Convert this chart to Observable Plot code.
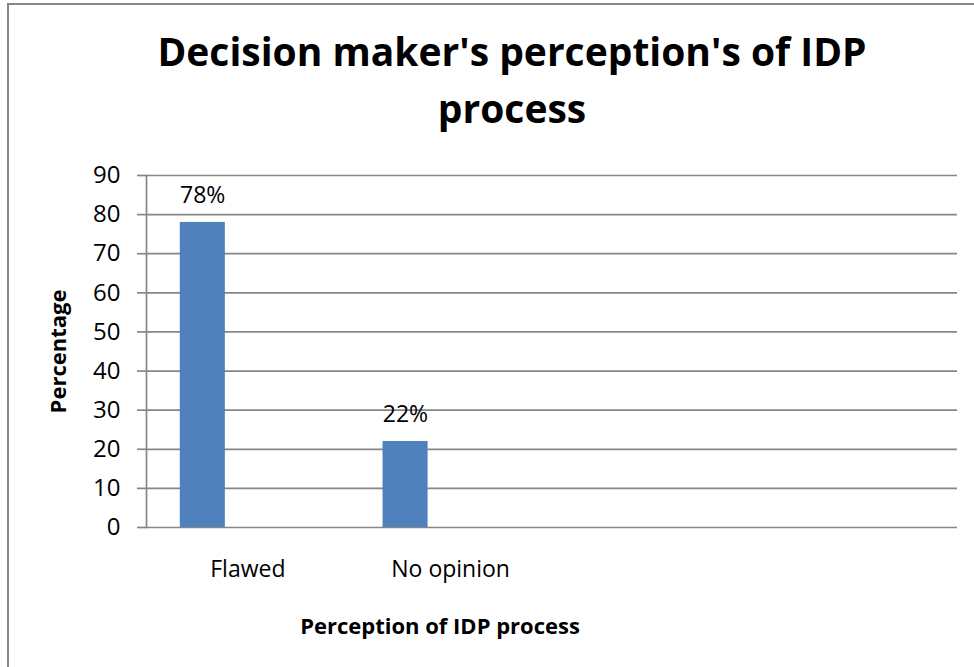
<!DOCTYPE html>
<html>
<head>
<meta charset="utf-8">
<script src="https://cdn.jsdelivr.net/npm/d3@7"></script>
<script src="https://cdn.jsdelivr.net/npm/@observablehq/plot@0.6"></script>
<style>
  html, body { margin: 0; padding: 0; background: #fff; }
  #page { position: relative; width: 974px; height: 667px; overflow: hidden; font-family: "Open Sans", sans-serif; }
  #frame { position: absolute; left: 7px; top: 3px; right: -5px; bottom: -5px; border-left: 2px solid #868686; border-top: 2px solid #868686; }
  #title { position: absolute; left: 0; top: 22px; width: 1024px; text-align: center; font-weight: bold; font-size: 39px; line-height: 57px; color: #000; }
  #chart { position: absolute; left: 0; top: 150px; }
</style>
</head>
<body>
<div id="page">
  <div id="frame"></div>
  <div id="title">Decision maker's perception's of IDP<br>process</div>
  <div id="chart"></div>
</div>
<script>
const categories = ["Flawed", "No opinion", "", ""];
const values = [78, 22, null, null];
const valueLabels = ["78%", "22%", "", ""];
const yTicks = [0, 10, 20, 30, 40, 50, 60, 70, 80, 90];
const yTitle = "Percentage";
const xTitle = "Perception of IDP process";

const rows = categories.map((c, i) => ({key: i, cat: c, value: values[i], label: valueLabels[i]}))
  .filter(d => d.value != null);

const grid = "#868686";
const plot = Plot.plot({
  width: 974,
  height: 517,
  marginLeft: 146,
  marginRight: 17,
  marginTop: 25,
  marginBottom: 140,
  style: {fontFamily: "'Open Sans', sans-serif", fontSize: "19px", color: "#000", background: "transparent", overflow: "visible"},
  x: {domain: categories.map((c, i) => i), padding: 0, round: false},
  y: {domain: [0, 90]},
  marks: [
    Plot.ruleY(yTicks, {stroke: grid, strokeWidth: 1.7}),
    Plot.frame({anchor: "left", stroke: grid, strokeWidth: 1.7}),
    Plot.axisY({ticks: yTicks, tickSize: 9, tickPadding: 17, stroke: grid, strokeWidth: 1.7, strokeOpacity: 1, label: null, fontSize: 24}),
    Plot.axisX({tickSize: 0, tickPadding: 33, tickFormat: i => categories[i], label: null, fontSize: 23}),
    Plot.barY(rows, {x: "key", y: "value", fill: "#4F81BD", insetLeft: 33.8, insetRight: 123.9}),
    Plot.text(rows, {x: "key", y: "value", text: "label", dx: -45.2, dy: -19, lineAnchor: "bottom", fontSize: 23}),
    Plot.text([yTitle], {text: d => d, frameAnchor: "left", textAnchor: "middle", rotate: -90, dx: -88, fontWeight: "bold", fontSize: 22}),
    Plot.text([xTitle], {text: d => d, frameAnchor: "bottom", textAnchor: "middle", dx: -112, dy: 106, lineAnchor: "bottom", fontWeight: "bold", fontSize: 22})
  ]
});
document.getElementById("chart").appendChild(plot);
</script>
</body>
</html>
